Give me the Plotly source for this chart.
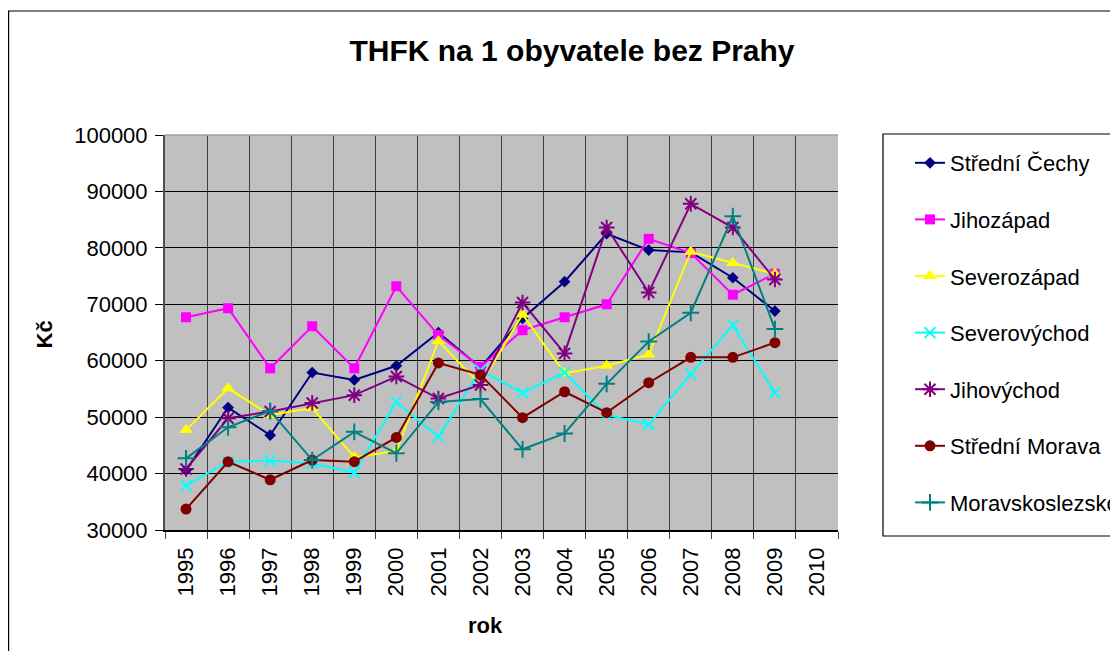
import plotly.graph_objects as go

years = ["1995", "1996", "1997", "1998", "1999", "2000", "2001", "2002",
         "2003", "2004", "2005", "2006", "2007", "2008", "2009"]
categories = years + ["2010"]

stredni_cechy = [40600, 51700, 46800, 57900, 56600, 59100, 65000, 58800,
                 67500, 74000, 82500, 79600, 79200, 74700, 68800]
jihozapad = [67700, 69300, 58650, 66100, 58650, 73200, 64550, 58900,
             65400, 67700, 70000, 81600, 79100, 71700, 75400]
severozapad = [47700, 55100, 50400, 51600, 42900, 44000, 63500, 55700,
               68200, 57800, 59100, 61100, 79300, 77300, 75400]
severovychod = [37900, 42100, 42300, 41800, 40200, 52700, 46500, 58300,
                54300, 57900, 50400, 48700, 57600, 66300, 54300]
jihovychod = [40800, 49800, 51000, 52500, 53900, 57200, 53300, 55700,
              70300, 61300, 83600, 72100, 87800, 83600, 74400]
stredni_morava = [33700, 42100, 38900, 42400, 42100, 46400, 59600, 57500,
                  49900, 54500, 50800, 56100, 60600, 60600, 63200]
moravskoslezsko = [42700, 48200, 51100, 42400, 47400, 43600, 52700, 53200,
                   44300, 47100, 55900, 63400, 68500, 85600, 65600]

series_names = ["Střední Čechy", "Jihozápad", "Severozápad", "Severovýchod",
                "Jihovýchod", "Střední Morava", "Moravskoslezsko"]
series_values = [stredni_cechy, jihozapad, severozapad, severovychod,
                 jihovychod, stredni_morava, moravskoslezsko]
colors = ["#000080", "#FF00FF", "#FFFF00", "#00FFFF", "#800080", "#800000", "#008080"]
symbols = ["diamond", "square", "triangle-up", "x-thin-open", "asterisk-open",
           "circle", "cross-thin-open"]
sizes = [9, 10, 12, 11, 13, 11, 12]

FONT = "Liberation Sans, Arial, sans-serif"

fig = go.Figure()
for i, (name, vals) in enumerate(zip(series_names, series_values)):
    fig.add_trace(go.Scatter(
        x=years, y=vals, name=name, mode="lines+markers",
        legendgroup=f"g{i}",
        line=dict(color=colors[i], width=2),
        marker=dict(symbol=symbols[i], size=sizes[i], color=colors[i],
                    line=dict(color=colors[i], width=2 if "open" in symbols[i] else 0)),
    ))

# the page body adds an 8px margin; work in page coordinates and convert
OFF = 8
PAGE_W, PAGE_H = 1118, 659
W, H = PAGE_W - 2 * OFF, PAGE_H - 2 * OFF
L, R, T, B = 165, 838, 135, 530          # plot area in page pixels
pw, ph = R - L, B - T


def px(x):
    return (x - L) / pw


def py(y):
    return (B - y) / ph


shapes = [
    # outer chart frame
    dict(type="rect", xref="paper", yref="paper", x0=px(OFF + 0.6), x1=px(1200),
         y0=py(720), y1=py(11), line=dict(color="#000000", width=1.2), layer="below"),
    # legend frame
    dict(type="rect", xref="paper", yref="paper", x0=px(883), x1=px(1200),
         y0=py(536), y1=py(134), line=dict(color="#000000", width=1.2), layer="below"),
    # plot top border
    dict(type="line", xref="paper", yref="paper", x0=0, x1=1, y0=1, y1=1,
         line=dict(color="#A0A0A0", width=1.5)),
]

fig.update_layout(
    width=W, height=H,
    margin=dict(l=L - OFF, r=W - (R - OFF), t=T - OFF, b=H - (B - OFF), autoexpand=False),
    paper_bgcolor="white",
    plot_bgcolor="#C0C0C0",
    font=dict(family=FONT, size=22, color="#000000"),
    title=dict(text="THFK na 1 obyvatele bez Prahy", x=(572 - OFF) / W, xref="container",
               xanchor="center", y=1 - (50 - OFF) / H, yref="container", yanchor="middle",
               font=dict(family=FONT, size=30, weight="bold", color="#000000")),
    showlegend=True,
    legend=dict(x=px(910), xanchor="left",
                yref="container", y=1 - (142 - OFF) / H, yanchor="top",
                maxheight=1,
                traceorder="grouped", tracegroupgap=25,
                bgcolor="rgba(0,0,0,0)", borderwidth=0,
                font=dict(family=FONT, size=22, color="#000000")),
    shapes=shapes,
    annotations=[
        dict(text="Kč", xref="paper", yref="paper", x=px(29), y=py(335),
             showarrow=False, textangle=-90,
             font=dict(family=FONT, size=22, weight="bold")),
        dict(text="rok", xref="paper", yref="paper", x=px(485), y=py(640),
             showarrow=False,
             font=dict(family=FONT, size=22, weight="bold")),
    ],
)

fig.update_xaxes(
    type="category", categoryorder="array", categoryarray=categories,
    range=[-0.5, len(categories) - 0.5],
    tickvals=categories, ticktext=categories,
    tickson="boundaries", ticks="outside", ticklen=7, tickcolor="#404040",
    tickangle=-90, tickfont=dict(family=FONT, size=22), ticklabelstandoff=7,
    showgrid=True, gridcolor="#404040", gridwidth=1,
    showline=True, linecolor="#000000", linewidth=1.5,
    zeroline=False, fixedrange=True,
)
fig.update_yaxes(
    range=[30000, 100000], dtick=10000, tick0=30000,
    ticks="outside", ticklen=8, tickcolor="#000000",
    tickfont=dict(family=FONT, size=22), ticklabelstandoff=3,
    showgrid=True, gridcolor="#000000", gridwidth=1,
    showline=True, linecolor="#505050", linewidth=2,
    zeroline=False, fixedrange=True,
    tickformat="d",
)

fig.write_html("out.html")
